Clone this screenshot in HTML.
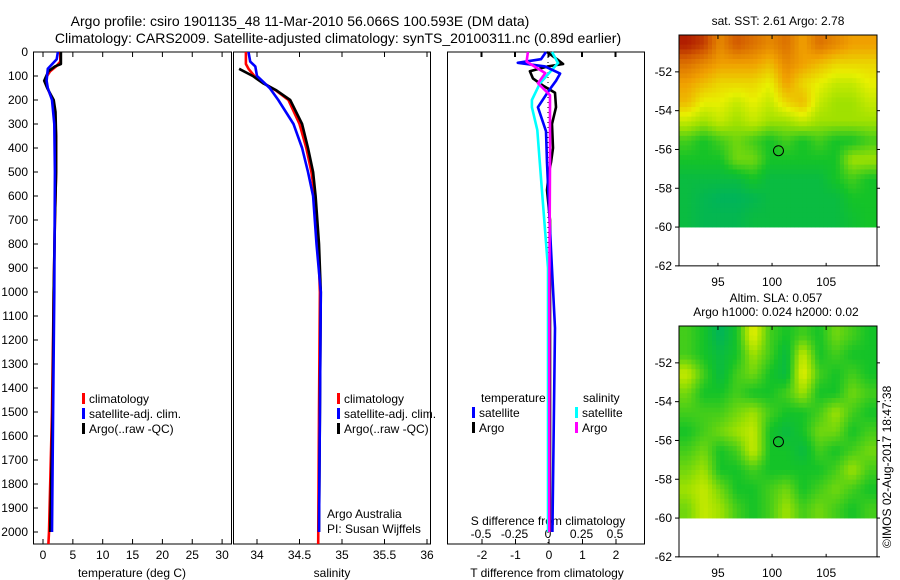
<!DOCTYPE html>
<html><head><meta charset="utf-8"><style>
body{margin:0;background:#fff}
svg{display:block;font-family:"Liberation Sans",sans-serif}
text{fill:#000}
</style></head><body>
<svg id="c" width="900" height="580" viewBox="0 0 900 580">
<text x="300" y="26" font-size="14" text-anchor="middle">Argo profile: csiro 1901135_48 11-Mar-2010 56.066S 100.593E (DM data)</text>
<text x="338" y="43" font-size="14" text-anchor="middle">Climatology: CARS2009. Satellite-adjusted climatology: synTS_20100311.nc (0.89d earlier)</text>
<text x="778" y="25" font-size="12" text-anchor="middle">sat. SST: 2.61  Argo: 2.78</text>
<text x="776" y="302" font-size="12" text-anchor="middle">Altim. SLA: 0.057</text>
<text x="776" y="316" font-size="12" text-anchor="middle">Argo h1000: 0.024 h2000: 0.02</text>
<text transform="translate(891,548) rotate(-90)" font-size="12">©IMOS 02-Aug-2017 18:47:38</text>
<g id="g"></g>
</svg>
<script>
// depth axis
const depthTicks=[0,100,200,300,400,500,600,700,800,900,1000,1100,1200,1300,1400,1500,1600,1700,1800,1900,2000];
// temperature (deg C)
const tempTicks=[0,5,10,15,20,25,30];
const tClimDepth=[0,40,60,80,110,130,160,200,260,350,500,700,1000,1500,2000,2050];
const tClim=[2.9,2.9,2.2,1.2,0.4,0.5,0.9,1.6,2.0,2.2,2.2,2.0,1.8,1.5,1.0,0.9];
const tSatDepth=[0,30,70,120,150,200,300,500,1000,1500,2000];
const tSat=[2.5,2.3,0.8,0.6,0.8,1.5,1.9,2.0,1.9,1.7,1.5];
const tArgoDepth=[0,50,60,80,120,150,200,250,350,500,700,1000,1500,2000];
const tArgo=[3.0,3.0,2.0,0.9,0.2,0.7,1.8,2.1,2.2,2.2,2.0,1.8,1.6,1.2];
// salinity
const salTicks=[34,34.5,35,35.5,36];
const sClimDepth=[0,50,70,100,130,160,200,300,400,500,600,800,1000,1500,2050];
const sClim=[33.87,33.87,33.9,33.97,34.08,34.22,34.37,34.5,34.58,34.64,34.68,34.72,34.74,34.73,34.72];
const sSatDepth=[0,40,60,100,150,200,300,400,500,600,800,1000,1500,2000];
const sSat=[33.9,33.92,33.98,34.0,34.15,34.25,34.43,34.53,34.6,34.66,34.7,34.75,34.74,34.73];
const sArgoDepth=[70,100,130,160,200,300,400,500,600,800,1000,1500,2000];
const sArgo=[33.79,33.95,34.07,34.23,34.39,34.53,34.6,34.66,34.69,34.73,34.75,34.74,34.73];
// differences
const tDiffTicks=[-2,-1,0,1,2];
const sDiffTicks=[-0.5,-0.25,0,0.25,0.5];
const dTArgoDepth=[0,30,50,60,80,110,140,170,230,300,400,460,500,575,700,2000];
const dTArgo=[-0.06,0.24,0.42,-0.03,-0.57,-0.48,-0.18,0.18,0.21,0.09,0.12,0.06,0,-0.06,0.03,0.03];
const dTSatDepth=[0,30,45,60,90,120,160,230,330,460,740,1150,2000];
const dTSat=[-0.09,-0.24,-0.93,-0.12,0.33,0.21,0,-0.33,-0.09,-0.06,0.03,0.18,0.1];
const dSSatDepth=[0,46,130,200,230,325,580,900,2000];
const dSSat=[0.03,0.075,-0.06,-0.12,-0.12,-0.08,-0.045,0,0];
const dSArgoDepth=[0,40,88,130,180,460,1000,2000];
const dSArgo=[-0.15,-0.16,-0.02,-0.075,0.015,0.015,0.01,0.01];
// maps
const latTicks=[-52,-54,-56,-58,-60,-62];
const lonTicks=[95,100,105];
const sstGrid=[
[.95,.9,.75,.85,.8,.75,.8,.7,.8,.75,.7,.7],
[.8,.75,.7,.7,.7,.65,.75,.7,.65,.6,.6,.6],
[.7,.65,.6,.6,.6,.55,.7,.6,.55,.5,.5,.55],
[.65,.55,.55,.5,.55,.5,.6,.65,.5,.45,.45,.5],
[.5,.45,.5,.45,.5,.45,.45,.5,.45,.45,.45,.45],
[.35,.3,.35,.4,.35,.3,.35,.3,.35,.3,.3,.35],
[.3,.3,.3,.4,.4,.3,.3,.3,.3,.3,.45,.45],
[.25,.25,.25,.25,.3,.25,.25,.25,.25,.3,.35,.3],
[.25,.22,.2,.2,.22,.25,.25,.25,.25,.25,.3,.3],
[.25,.22,.22,.22,.25,.25,.25,.25,.25,.25,.28,.3]];
const slaGrid=[
[.35,.3,.2,.3,.55,.35,.3,.35,.3,.4,.35,.3],
[.35,.3,.25,.3,.45,.35,.25,.5,.3,.35,.3,.3],
[.5,.35,.25,.35,.4,.3,.25,.55,.35,.3,.35,.3],
[.4,.3,.3,.35,.3,.3,.35,.45,.3,.3,.4,.35],
[.35,.35,.35,.4,.45,.35,.3,.3,.35,.45,.35,.3],
[.3,.35,.4,.45,.5,.3,.25,.3,.4,.4,.3,.35],
[.35,.4,.3,.35,.5,.3,.3,.25,.35,.3,.35,.4],
[.4,.45,.3,.3,.35,.3,.3,.3,.3,.35,.45,.35],
[.45,.5,.4,.3,.3,.35,.4,.3,.35,.4,.35,.3],
[.4,.5,.45,.35,.3,.35,.45,.35,.4,.35,.3,.35]];
const argoLon=100.593, argoLat=-56.066;

const NS='http://www.w3.org/2000/svg';
const G=document.getElementById('g');
function mk(tag,attrs,parent){const e=document.createElementNS(NS,tag);for(const k in attrs)e.setAttribute(k,attrs[k]);(parent||G).appendChild(e);return e;}
function txt(x,y,s,size,anchor,parent){const e=mk('text',{x:x,y:y,'font-size':size,'text-anchor':anchor||'start'},parent);e.textContent=s;return e;}
const Y=d=>52+d*0.24;
const xT=v=>43+v*5.97, xS=v=>257+(v-34)*85, xDT=v=>549+v*33.5, xDS=v=>548+v*134;
function frame(x0,x1,name){const r=mk('rect',{x:x0,y:52,width:x1-x0,height:492,fill:'none',stroke:'#000','stroke-width':1});

}
function line(ds,vs,fx,color,name){const p=mk('polyline',{points:ds.map((d,i)=>fx(vs[i]).toFixed(1)+','+Y(d).toFixed(1)).join(' '),fill:'none',stroke:color,'stroke-width':2.6,'stroke-linejoin':'round'});

}
function xticks(ticks,fx){ticks.forEach(t=>{const x=fx(t);mk('line',{x1:x,x2:x,y1:544,y2:539,stroke:'#000'});mk('line',{x1:x,x2:x,y1:52,y2:57,stroke:'#000'});const l=txt(x,559,String(t),12,'middle');

});}
frame(33.5,231.5,'temperature-panel');frame(233.5,430.5,'salinity-panel');frame(447.5,644.5,'difference-panel');
depthTicks.forEach(d=>{mk('line',{x1:33,x2:38,y1:Y(d),y2:Y(d),stroke:'#000'});const l=txt(28,Y(d)+4,String(d),12,'end');

});
xticks(tempTicks,xT);xticks(salTicks,xS);xticks(tDiffTicks,xDT);
sDiffTicks.forEach(t=>{const x=xDS(t);mk('line',{x1:x,x2:x,y1:52,y2:57,stroke:'#000'});const l=txt(x,538,String(t),12,'middle');

});
mk('line',{x1:xDS(0),x2:xDS(0),y1:52,y2:544,stroke:'#000','stroke-dasharray':'1,4','stroke-width':1});
[['temperature (deg C)',132],['salinity',332],['T difference from climatology',547]].forEach(a=>{const l=txt(a[1],577,a[0],12,'middle');

});
const st=txt(548,525,'S difference from climatology',12,'middle');


line(tClimDepth,tClim,xT,'#f00','temp-climatology');line(tArgoDepth,tArgo,xT,'#000','temp-argo');line(tSatDepth,tSat,xT,'#00f','temp-satellite');
line(sClimDepth,sClim,xS,'#f00','sal-climatology');line(sArgoDepth,sArgo,xS,'#000','sal-argo');line(sSatDepth,sSat,xS,'#00f','sal-satellite');
line(dTArgoDepth,dTArgo,xDT,'#000','tdiff-argo');line(dSSatDepth,dSSat,xDS,'#0ff','sdiff-satellite');line(dTSatDepth,dTSat,xDT,'#00f','tdiff-satellite');line(dSArgoDepth,dSArgo,xDS,'#f0f','sdiff-argo');
function leg(x,y,color,label){mk('rect',{x:x,y:y-10,width:3,height:11,fill:color});const l=txt(x+7,y,label,12);

}
[[82,'#f00','climatology'],[82,'#00f','satellite-adj. clim.'],[82,'#000','Argo(..raw -QC)']].forEach((a,i)=>{leg(a[0],403+i*15,a[1],a[2]);leg(a[0]+255,403+i*15,a[1],a[2]);});
txt(481,402,'temperature',12);txt(583,402,'salinity',12);
leg(472,417,'#00f','satellite');leg(472,432,'#000','Argo');leg(575,417,'#0ff','satellite');leg(575,432,'#f0f','Argo');
txt(327,518,'Argo Australia',12);txt(327,533,'PI: Susan Wijffels',12);
const stops=[[0,[0,160,120]],[.2,[0,180,90]],[.3,[20,195,40]],[.45,[160,225,0]],[.55,[232,240,0]],[.7,[240,160,0]],[.85,[210,90,0]],[1,[160,0,0]]];
function cmap(v){for(let i=1;i<stops.length;i++){if(v<=stops[i][0]){const a=stops[i-1],b=stops[i],t=(v-a[0])/(b[0]-a[0]);return 'rgb('+a[1].map((c,k)=>Math.round(c+(b[1][k]-c)*t)).join(',')+')';}}return 'rgb(160,0,0)';}
function sample(grid,fr,fc){const R=grid.length,C=grid[0].length;fr=Math.max(0,Math.min(R-1,fr));fc=Math.max(0,Math.min(C-1,fc));const r0=Math.floor(fr),c0=Math.floor(fc),r1=Math.min(R-1,r0+1),c1=Math.min(C-1,c0+1),tr=fr-r0,tc=fc-c0;
return grid[r0][c0]*(1-tr)*(1-tc)+grid[r0][c1]*(1-tr)*tc+grid[r1][c0]*tr*(1-tc)+grid[r1][c1]*tr*tc;}
function map(top,grid,name){
 const x0=679,x1=877,lonA=91.4,lonB=109.7;
 const lx=l=>x0+(l-lonA)/(lonB-lonA)*(x1-x0);
 const ly=la=>top+(-50.1-la)*19.4;
 const g=mk('g',{});
 
 
 const rows=grid.length,cols=grid[0].length,S=4;
 const y60=ly(-60),cw=(x1-x0)/(cols*S),ch=(y60-top)/(rows*S);
 for(let r=0;r<rows*S;r++)for(let c=0;c<cols*S;c++){
  const v=sample(grid,(r+0.5)/S-0.5,(c+0.5)/S-0.5);
  mk('rect',{x:x0+c*cw,y:top+r*ch,width:cw+0.4,height:ch+0.4,fill:cmap(v)},g);}
 const yb=ly(-62);
 mk('rect',{x:x0,y:top,width:x1-x0,height:yb-top,fill:'none',stroke:'#000'},g);
 latTicks.forEach(la=>{const y=ly(la);mk('line',{x1:x0-4,x2:x0,y1:y,y2:y,stroke:'#000'},g);mk('line',{x1:x1,x2:x1+3,y1:y,y2:y,stroke:'#000'},g);txt(x0-7,y+4,String(la),12,'end',g);});
 lonTicks.forEach(lo=>{const x=lx(lo);mk('line',{x1:x,x2:x,y1:top,y2:top+4,stroke:'#000'},g);mk('line',{x1:x,x2:x,y1:yb,y2:yb-3,stroke:'#000'},g);txt(x,yb+20,String(lo),12,'middle',g);});
 mk('circle',{cx:lx(argoLon),cy:ly(argoLat),r:5,fill:'none',stroke:'#000'},g);
}
map(35,sstGrid,'sst-map');map(326,slaGrid,'sla-map');
</script>
</body></html>
